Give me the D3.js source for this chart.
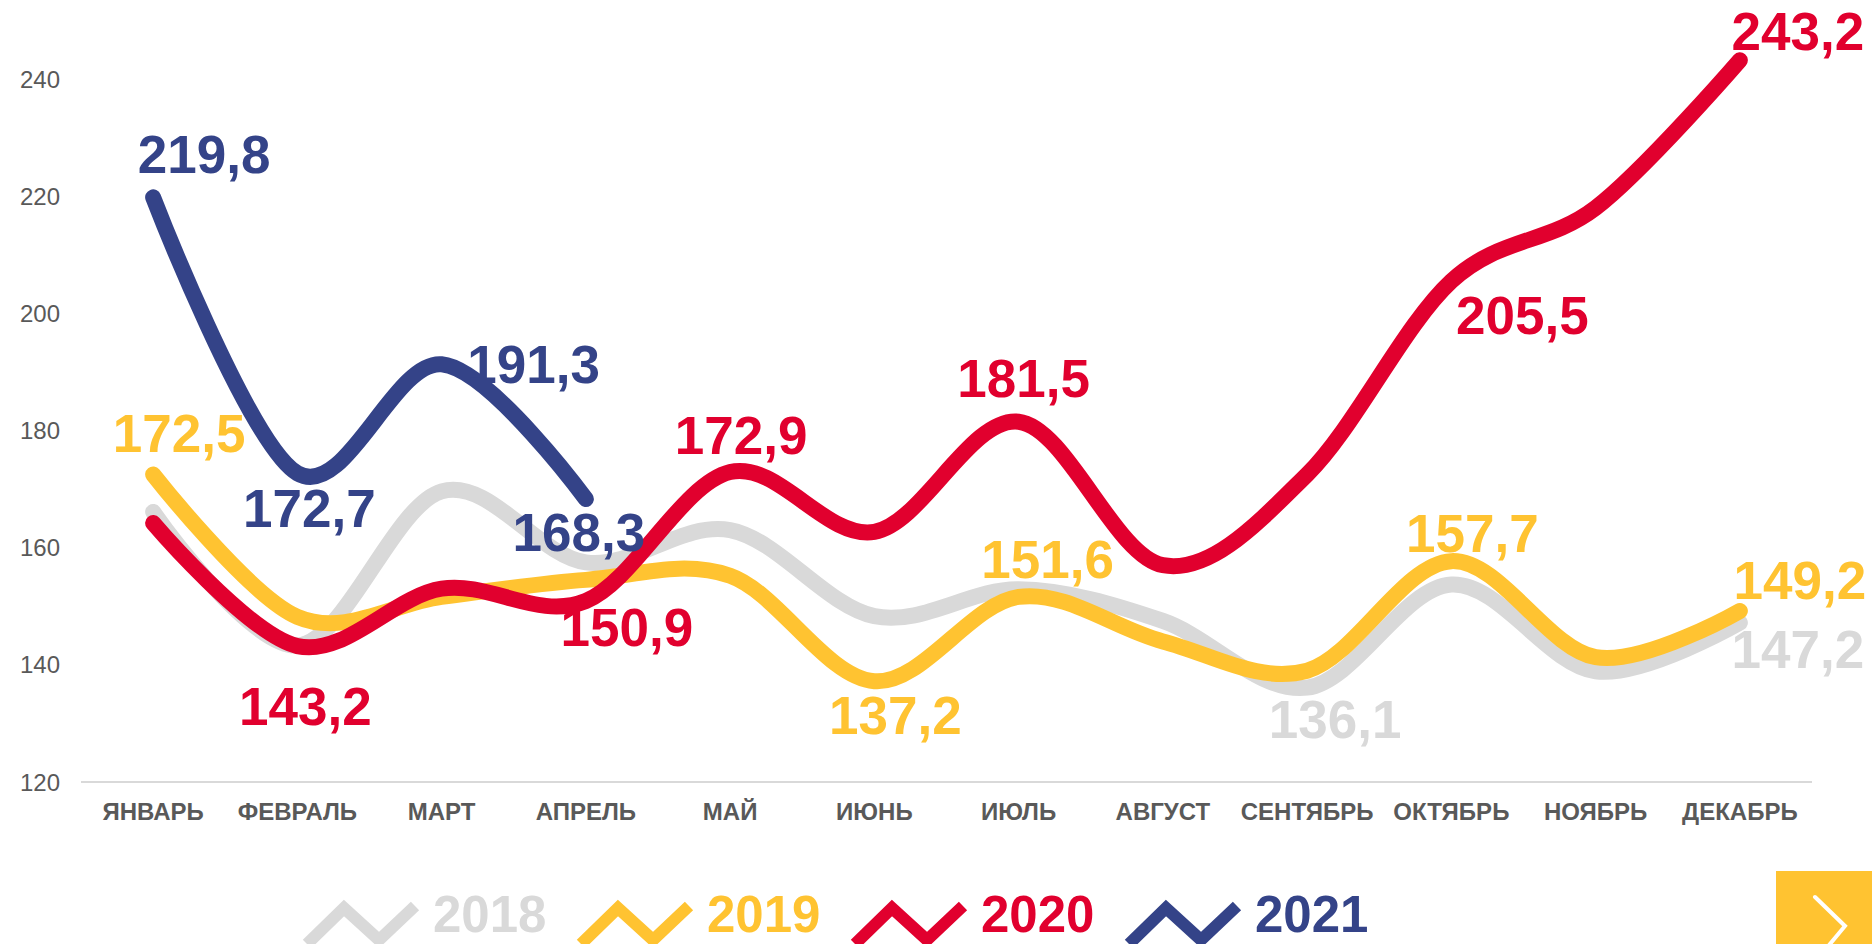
<!DOCTYPE html>
<html>
<head>
<meta charset="utf-8">
<script src="https://cdn.jsdelivr.net/npm/d3@7"></script>
<style>
  body { margin: 0; background: #fff; }
  svg { display: block; font-family: "Liberation Sans", Arial, sans-serif; }
</style>
</head>
<body>
<div id="chart"></div>
<script>
const width = 1872, height = 944;

// months and y ticks
const months = ["ЯНВАРЬ", "ФЕВРАЛЬ", "МАРТ", "АПРЕЛЬ", "МАЙ", "ИЮНЬ", "ИЮЛЬ", "АВГУСТ", "СЕНТЯБРЬ", "ОКТЯБРЬ", "НОЯБРЬ", "ДЕКАБРЬ"];
const yTicks = [120, 140, 160, 180, 200, 220, 240];

// series values
const years = ["2018", "2019", "2020", "2021"];
const values2018 = [166.1, 143.3, 169.6, 157.5, 163.0, 148.3, 152.9, 147.5, 136.1, 153.7, 138.9, 147.2];
const values2019 = [172.5, 148.2, 151.6, 154.5, 155.2, 137.2, 151.6, 144.0, 139.0, 157.7, 141.3, 149.2];
const values2020 = [164.2, 143.2, 153.0, 150.9, 172.9, 162.7, 181.5, 157.0, 172.5, 205.5, 218.0, 243.2];
const values2021 = [219.8, 172.7, 191.3, 168.3];
const colors = ["#d9d9d9", "#ffc331", "#e1002e", "#344388"];

// which points carry a value label: [series index, month index, dx, dy]
const labelSpots = [
  [0, 8, 28, 50], [0, 11, 58, 45],
  [1, 0, 26, -22], [1, 5, 21, 53], [1, 6, 29, -19], [1, 9, 21, -9], [1, 11, 60, -12],
  [2, 1, 8, 79], [2, 3, 41, 45], [2, 4, 11, -18], [2, 6, 5, -25], [2, 9, 71, 53], [2, 11, 58, -10],
  [3, 0, 51, -24], [3, 1, 12, 54], [3, 2, 92, 19], [3, 3, -7, 52]
];

const series = [values2018, values2019, values2020, values2021];

const svg = d3.select("#chart").append("svg").attr("width", width).attr("height", height);

const x = d3.scalePoint().domain(months).range([81, 1812]).padding(0.5);
const y = d3.scaleLinear().domain([120, 240]).range([782, 79]);

// y tick labels
svg.append("g").selectAll("text")
  .data(yTicks)
  .enter().append("text")
  .attr("x", 60)
  .attr("y", d => y(d))
  .attr("dy", "0.36em")
  .attr("text-anchor", "end")
  .style("font-size", "24px")
  .style("fill", "#595959")
  .text(d => d);

// baseline
svg.append("line")
  .attr("x1", 81).attr("x2", 1812)
  .attr("y1", y(120)).attr("y2", y(120))
  .attr("stroke", "#d9d9d9")
  .attr("stroke-width", 2);

// month labels
svg.append("g").selectAll("text")
  .data(months)
  .enter().append("text")
  .attr("x", d => x(d))
  .attr("y", 820)
  .attr("text-anchor", "middle")
  .style("font-size", "24px")
  .style("font-weight", "bold")
  .style("fill", "#595959")
  .text(d => d);

// lines
const line = d3.line()
  .x((d, i) => x(months[i]))
  .y(d => y(d))
  .curve(d3.curveCardinal.tension(0));

svg.append("g").selectAll("path")
  .data(series)
  .enter().append("path")
  .attr("d", d => line(d))
  .attr("fill", "none")
  .attr("stroke", (d, i) => colors[i])
  .attr("stroke-width", 16)
  .attr("stroke-linecap", "round")
  .attr("stroke-linejoin", "round");

// value labels
svg.append("g").selectAll("text")
  .data(labelSpots)
  .enter().append("text")
  .attr("x", d => x(months[d[1]]) + d[2])
  .attr("y", d => y(series[d[0]][d[1]]) + d[3])
  .attr("text-anchor", "middle")
  .style("font-size", "53px")
  .style("font-weight", "bold")
  .style("fill", d => colors[d[0]])
  .text(d => series[d[0]][d[1]].toFixed(1).replace(".", ","));

// legend
const icon = d3.line();
const legend = svg.append("g").selectAll("g")
  .data(years)
  .enter().append("g")
  .attr("transform", (d, i) => `translate(${302 + i * 274}, 898)`);

legend.append("path")
  .attr("d", icon([[5, 46], [42, 10], [77, 42], [113, 8]]))
  .attr("fill", "none")
  .attr("stroke", (d, i) => colors[i])
  .attr("stroke-width", 12);

legend.append("text")
  .attr("x", 131)
  .attr("y", 34)
  .style("font-size", "51px")
  .style("font-weight", "bold")
  .style("fill", (d, i) => colors[i])
  .text(d => d);

// next button
svg.append("rect")
  .attr("x", 1776).attr("y", 871)
  .attr("width", 96).attr("height", 73)
  .attr("fill", "#ffc331");

svg.append("path")
  .attr("d", icon([[1815, 897], [1845, 926], [1820, 956]]))
  .attr("fill", "none")
  .attr("stroke", "#fff")
  .attr("stroke-width", 4)
  .attr("stroke-linecap", "round");
</script>
</body>
</html>
